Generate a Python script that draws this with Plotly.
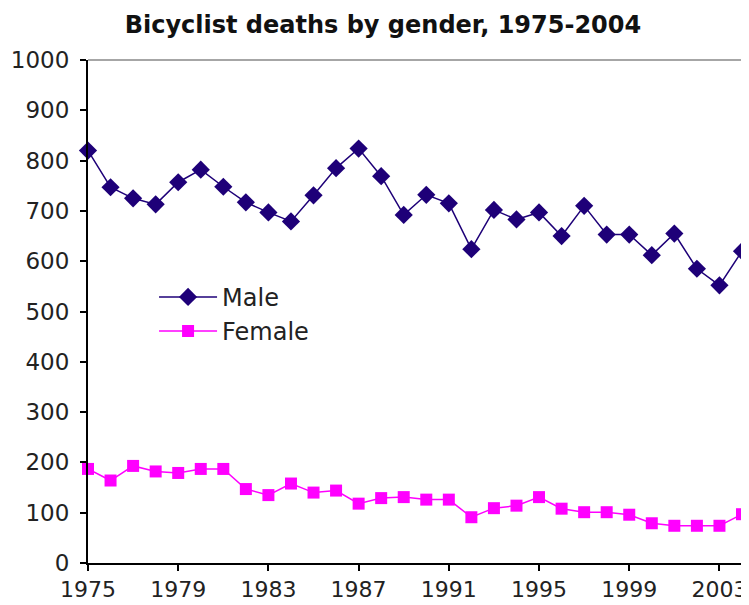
import plotly.graph_objects as go

years = list(range(1975, 2005))
male = [820, 747, 725, 713, 757, 782, 748, 717, 697, 679, 731, 785, 824, 769,
        692, 732, 715, 624, 702, 683, 697, 650, 710, 653, 653, 612, 655, 585, 552, 620]
female = [187, 164, 193, 182, 179, 187, 187, 147, 135, 158, 140, 144, 118, 129,
          131, 126, 126, 91, 109, 114, 131, 108, 101, 101, 96, 79, 74, 74, 74, 97]
tick_years = [1975, 1979, 1983, 1987, 1991, 1995, 1999, 2003]

male_color = "#1E0078"
female_color = "#FF00FF"
font = "DejaVu Sans"

fig = go.Figure()
fig.add_trace(go.Scatter(
    x=years, y=male, name="Male", mode="lines+markers", legendgroup="m",
    line=dict(color=male_color, width=1.5),
    marker=dict(symbol="diamond", size=14, color=male_color),
    cliponaxis=False,
))
fig.add_trace(go.Scatter(
    x=years, y=female, name="Female", mode="lines+markers", legendgroup="f",
    line=dict(color=female_color, width=1.5),
    marker=dict(symbol="square", size=12, color=female_color),
    cliponaxis=False,
))

# the page body has an 8px margin, so the figure is 8px smaller
fig.update_layout(
    width=741, height=597,
    margin=dict(l=80, r=7, t=52, b=42, autoexpand=False),
    paper_bgcolor="white", plot_bgcolor="white",
    font=dict(family=font, size=22, color="#222222"),
    title=dict(text="<b>Bicyclist deaths by gender, 1975-2004</b>",
               x=0.506, xanchor="center", y=0.972, yanchor="middle",
               font=dict(family=font, size=24, color="#111111")),
    legend=dict(x=0.101, y=0.573, xanchor="left", yanchor="top",
                bgcolor="rgba(0,0,0,0)", font=dict(size=24),
                tracegroupgap=0, itemwidth=58),
    showlegend=True,
)
fig.update_xaxes(
    range=[1975, 2004], tickmode="array", tickvals=tick_years,
    ticktext=[str(t) for t in tick_years], automargin=False,
    showgrid=False, zeroline=False, showline=True, linecolor="black", linewidth=2,
    ticks="outside", ticklen=6, tickwidth=2, tickcolor="black",
    tickfont=dict(size=22), ticklabelstandoff=0,
)
fig.update_yaxes(
    range=[0, 1000], dtick=100, showgrid=False, zeroline=False, automargin=False,
    showline=True, linecolor="black", linewidth=2,
    ticks="outside", ticklen=6, tickwidth=2, tickcolor="black",
    tickfont=dict(size=23), ticklabelstandoff=6,
)
# thin gray frame on top and right
fig.add_shape(type="line", xref="paper", yref="paper", x0=0, x1=1, y0=1, y1=1,
              line=dict(color="#888888", width=1.5), layer="below")
fig.add_shape(type="line", xref="paper", yref="paper", x0=1, x1=1, y0=0, y1=1,
              line=dict(color="#888888", width=2), layer="below")

fig.write_html("out.html")
